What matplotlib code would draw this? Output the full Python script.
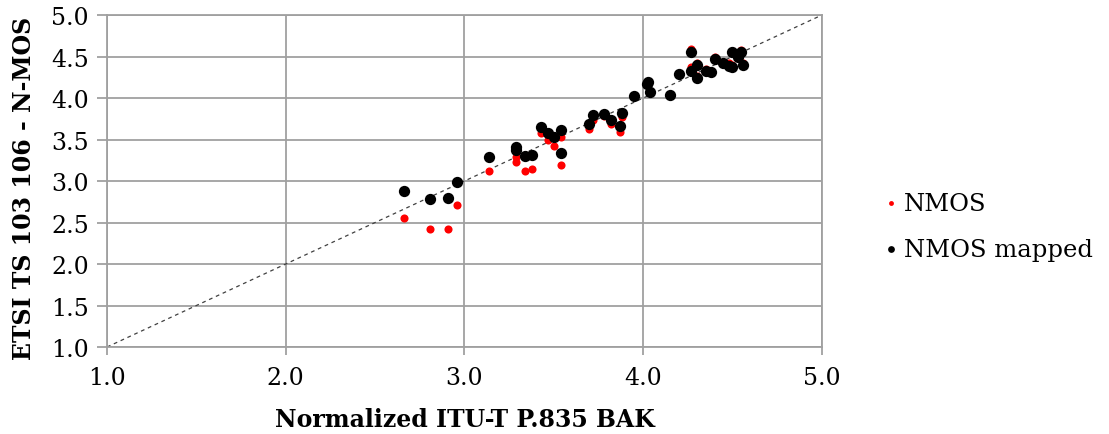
import matplotlib
matplotlib.use("Agg")
import matplotlib.pyplot as plt

# normalized P.835 BAK (x) and N-MOS values (y)
bak = [2.66, 2.81, 2.91, 2.96, 3.14, 3.29, 3.29, 3.34, 3.38, 3.43, 3.47, 3.50,
       3.54, 3.54, 3.70, 3.72, 3.78, 3.82, 3.87, 3.88, 3.95, 4.02, 4.03, 4.04,
       4.15, 4.20, 4.27, 4.27, 4.30, 4.30, 4.35, 4.38, 4.40, 4.45, 4.48, 4.50,
       4.50, 4.55, 4.56, 4.53]
nmos = [2.55, 2.42, 2.42, 2.71, 3.12, 3.29, 3.23, 3.12, 3.14, 3.58, 3.50, 3.42,
        3.53, 3.19, 3.63, 3.74, 3.78, 3.69, 3.59, 3.77, 4.02, 4.17, 4.19, 4.07,
        4.04, 4.29, 4.59, 4.37, 4.27, 4.42, 4.35, 4.33, 4.50, 4.43, 4.42, 4.57,
        4.40, 4.58, 4.42, 4.53]
nmos_mapped = [2.88, 2.78, 2.80, 2.99, 3.29, 3.41, 3.37, 3.30, 3.31, 3.65, 3.58, 3.53,
               3.62, 3.34, 3.69, 3.79, 3.81, 3.73, 3.66, 3.82, 4.02, 4.17, 4.19, 4.07,
               4.04, 4.29, 4.55, 4.33, 4.24, 4.40, 4.33, 4.31, 4.47, 4.42, 4.39, 4.55,
               4.38, 4.55, 4.40, 4.50]

ticks = [1.0, 1.5, 2.0, 2.5, 3.0, 3.5, 4.0, 4.5, 5.0]
xticks = [1.0, 2.0, 3.0, 4.0, 5.0]

plt.rcParams['font.family'] = ['DejaVu Serif']

fig = plt.figure(figsize=(11.09, 4.35), dpi=100)
ax = fig.add_axes([0.0965, 0.2, 0.6445, 0.763])

ax.plot([1, 5], [1, 5], linestyle=(0, (3, 3)), color='#404040', linewidth=0.9, zorder=2)
ax.scatter(bak, nmos, s=34, color='#ff0000', label="NMOS", zorder=3, linewidths=0)
ax.scatter(bak, nmos_mapped, s=66, color='black', label="NMOS mapped", zorder=4, linewidths=0)

ax.set_xlim(1, 5)
ax.set_ylim(1, 5)
ax.set_xticks(xticks)
ax.set_yticks(ticks)
ax.set_xticklabels([f"{t:.1f}" for t in xticks], fontsize=17)
ax.set_yticklabels([f"{t:.1f}" for t in ticks], fontsize=17)
ax.grid(True, color='#a0a0a0', linewidth=1.3)
ax.set_axisbelow(True)
for s in ax.spines.values():
    s.set_color('#a0a0a0')
    s.set_linewidth(1.3)
ax.tick_params(axis='y', direction='out', length=7, color='#a0a0a0', width=1.3, pad=6)
ax.tick_params(axis='x', direction='out', length=6, color='#a0a0a0', width=1.3, pad=8)

ax.set_xlabel("Normalized ITU-T P.835 BAK", fontsize=17, fontweight='bold')
ax.set_ylabel("ETSI TS 103 106 - N-MOS", fontsize=17, fontweight='bold')
ax.xaxis.set_label_coords(0.5, -0.18)
ax.yaxis.set_label_coords(-0.1, 0.48)

leg = ax.legend(loc='center left', bbox_to_anchor=(1.052, 0.364), frameon=False,
                fontsize=17.5, handlelength=0.8, handletextpad=0.15,
                labelspacing=0.95, markerscale=0.6)

fig.savefig("out.png", dpi=100)
